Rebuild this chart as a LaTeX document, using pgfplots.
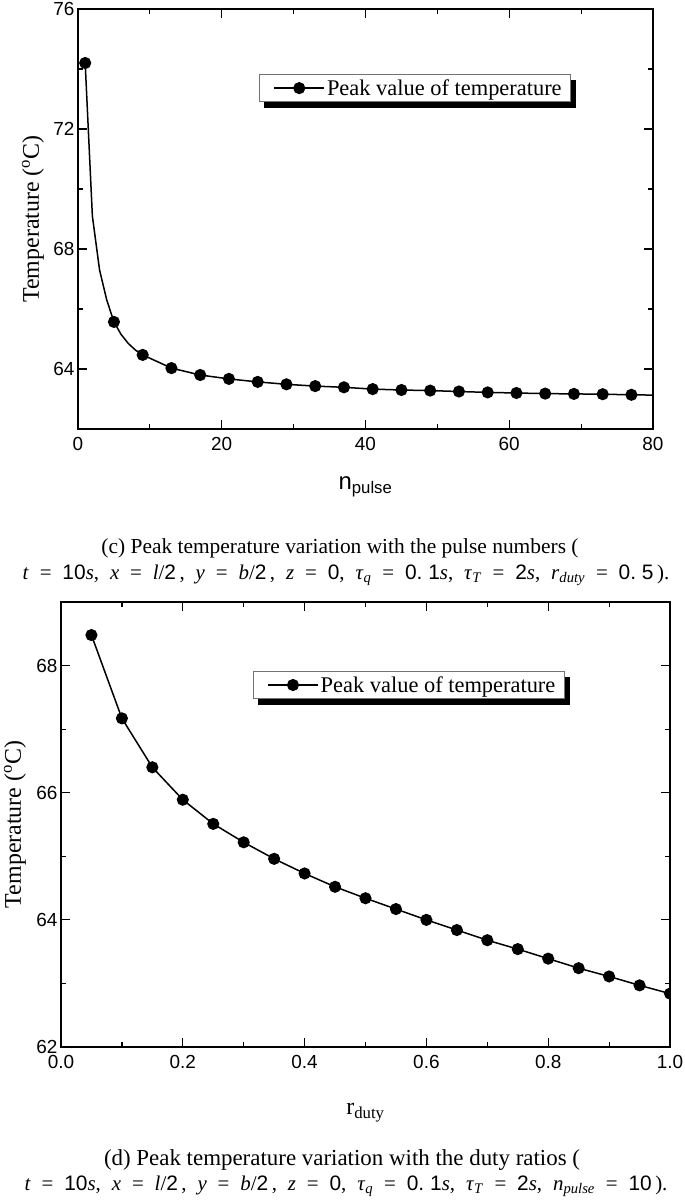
\documentclass[border=0pt]{standalone}
\usepackage{fontspec}
\setmainfont{Liberation Serif}
\setsansfont{Liberation Sans}
\usepackage{pgfplots}
\pgfplotsset{compat=1.18}
\usetikzlibrary{backgrounds}

\newcommand{\iv}[1]{\textit{#1}}
\newcommand{\sv}[1]{\textsf{#1}}
\newcommand{\gap}{\hspace{0.52em}}

\pgfplotsset{
  peakaxis/.style={
    scale only axis,
    anchor=south west,
    axis line style={line width=1.4bp},
    tick align=inside,
    major tick length=9bp,
    minor tick length=5bp,
    every tick/.style={black, line width=1.2bp},
    tick label style={font=\fontsize{19}{21}\selectfont\sffamily},
    xticklabel style={yshift=-5bp},
    /pgf/number format/assume math mode=true,
    label style={font=\fontsize{24}{28}\selectfont},
    ylabel={Temperature (\textsuperscript{o}C)},
    legend style={at={(0.315,0.845)}, anchor=north west,
      draw=black!55, line width=0.8bp, fill=white,
      font=\fontsize{22.5}{26}\selectfont,
      inner xsep=7bp, inner ysep=3bp},
    legend cell align=left,
    legend image code/.code={
      \path (-7bp,0bp);
      \draw[mark repeat=2, mark phase=2, ##1]
        plot coordinates {(0bp,0bp) (25bp,0bp) (50bp,0bp)};},
    clip marker paths=true,
  },
  peakline/.style={black, line width=1.5bp, mark=*, mark size=5.3bp,
    mark options={solid, fill=black}},
}

\begin{document}
\begin{tikzpicture}
\path[use as bounding box] (0,0) rectangle (685bp,-1201bp);

% (c) pulse numbers
\begin{axis}[peakaxis,
  at={(78bp,-429bp)}, width=575bp, height=420bp,
  xmin=0, xmax=80, ymin=62, ymax=76,
  xtick={0,20,40,60,80}, minor xtick={10,30,50,70},
  ytick={64,68,72,76}, minor ytick={62,66,70,74},
  xlabel={\sffamily n\textsubscript{pulse}},
  xlabel style={at={(axis description cs:0.5,0)}, anchor=center, yshift=-58bp},
  ylabel style={at={(axis description cs:0,0.5)}, anchor=center, yshift=45bp},
  legend style={name=legc},
]
\addplot[peakline, forget plot,
  mark indices={1,5,9,10,11,12,13,14,15,16,17,18,19,20,21,22,23,24,25,26}]
  coordinates {
  (1,74.20) (2,69.10) (3,67.30) (4,66.30) (5,65.57) (6,65.15) (7,64.85) (8,64.63)
  (9,64.47) (13,64.03) (17,63.80) (21,63.67) (25,63.57) (29,63.49) (33,63.43)
  (37,63.39) (41,63.33) (45,63.30) (49,63.28) (53,63.25) (57,63.22) (61,63.20)
  (65,63.18) (69,63.17) (73,63.16) (77,63.14) (80,63.13)
};
\addlegendimage{peakline}
\addlegendentry{Peak value of temperature}
\end{axis}

\node[font=\fontsize{21.5}{24}\selectfont] at (340bp,-548bp)
  {(c) Peak temperature variation with the pulse numbers (};
\node[font=\fontsize{21}{24}\selectfont] at (346bp,-575bp)
  {\iv{t}\gap=\gap\sv{10}\iv{s},\gap\iv{x}\gap=\gap\iv{l}/\sv{2}\,,\gap\iv{y}\gap=\gap\iv{b}/\sv{2}\,,\gap\iv{z}\gap=\gap\sv{0},\gap\iv{τ}\textsubscript{\iv{q}}\gap=\gap\sv{0.\ 1}\iv{s},\gap\iv{τ}\textsubscript{\iv{T}}\gap=\gap\sv{2}\iv{s},\gap\iv{r}\textsubscript{\iv{duty}}\gap=\gap\sv{0.\ 5}\,).};

% (d) duty ratios
\begin{axis}[peakaxis,
  at={(61bp,-1047bp)}, width=609bp, height=445bp,
  xmin=0, xmax=1, ymin=62, ymax=69,
  xtick={0,0.2,0.4,0.6,0.8,1.0}, minor xtick={0.1,0.3,0.5,0.7,0.9},
  ytick={62,64,66,68}, minor ytick={63,65,67},
  xticklabel style={/pgf/number format/.cd, fixed, fixed zerofill, precision=1},
  xlabel={r\textsubscript{duty}},
  xlabel style={at={(axis description cs:0.5,0)}, anchor=center, yshift=-66bp},
  ylabel style={at={(axis description cs:0,0.5)}, anchor=center, yshift=46bp},
  legend style={name=legd},
]
\addplot[peakline]
  coordinates {
  (0.05,68.48) (0.10,67.17) (0.15,66.40) (0.20,65.89) (0.25,65.51)
  (0.30,65.22) (0.35,64.96) (0.40,64.73) (0.45,64.52) (0.50,64.34)
  (0.55,64.17) (0.60,64.00) (0.65,63.84) (0.70,63.68) (0.75,63.54)
  (0.80,63.39) (0.85,63.24) (0.90,63.11) (0.95,62.97) (1.00,62.84)
};
\addlegendentry{Peak value of temperature}
\end{axis}

% legend shadows, behind the legend boxes
\begin{scope}[on background layer]
  \fill[black] ([shift={(5bp,-6bp)}]legc.south west) rectangle ([shift={(5bp,-6bp)}]legc.north east);
  \fill[black] ([shift={(5bp,-6bp)}]legd.south west) rectangle ([shift={(5bp,-6bp)}]legd.north east);
\end{scope}

\node[font=\fontsize{23}{26}\selectfont] at (342bp,-1160bp)
  {(d) Peak temperature variation with the duty ratios (};
\node[font=\fontsize{21}{24}\selectfont] at (346bp,-1186bp)
  {\iv{t}\gap=\gap\sv{10}\iv{s},\gap\iv{x}\gap=\gap\iv{l}/\sv{2}\,,\gap\iv{y}\gap=\gap\iv{b}/\sv{2}\,,\gap\iv{z}\gap=\gap\sv{0},\gap\iv{τ}\textsubscript{\iv{q}}\gap=\gap\sv{0.\ 1}\iv{s},\gap\iv{τ}\textsubscript{\iv{T}}\gap=\gap\sv{2}\iv{s},\gap\iv{n}\textsubscript{\iv{pulse}}\gap=\gap\sv{10}\,).};
\end{tikzpicture}
\end{document}
